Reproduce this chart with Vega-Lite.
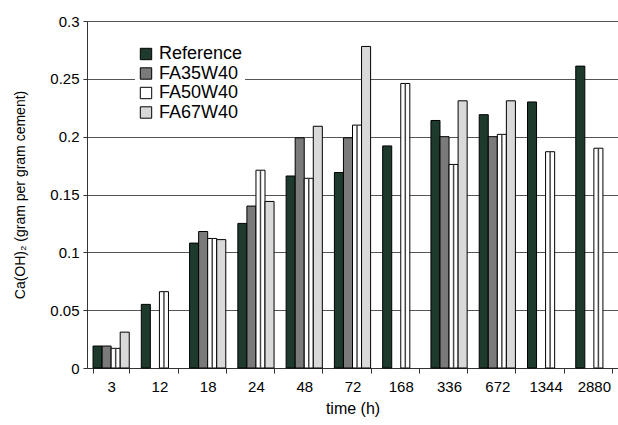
{
  "$schema": "https://vega.github.io/schema/vega-lite/v6.json",
  "width": 531,
  "height": 347,
  "autosize": "none",
  "padding": {"left": 87, "top": 21, "right": 0, "bottom": 57},
  "background": "white",
  "data": {"values": [
    {"t": "3", "s": "Reference", "v": 0.019},
    {"t": "3", "s": "FA35W40", "v": 0.019},
    {"t": "3", "s": "FA50W40", "v": 0.017},
    {"t": "3", "s": "FA67W40", "v": 0.031},
    {"t": "12", "s": "Reference", "v": 0.055},
    {"t": "12", "s": "FA50W40", "v": 0.066},
    {"t": "18", "s": "Reference", "v": 0.108},
    {"t": "18", "s": "FA35W40", "v": 0.118},
    {"t": "18", "s": "FA50W40", "v": 0.112},
    {"t": "18", "s": "FA67W40", "v": 0.111},
    {"t": "24", "s": "Reference", "v": 0.125},
    {"t": "24", "s": "FA35W40", "v": 0.14},
    {"t": "24", "s": "FA50W40", "v": 0.171},
    {"t": "24", "s": "FA67W40", "v": 0.144},
    {"t": "48", "s": "Reference", "v": 0.166},
    {"t": "48", "s": "FA35W40", "v": 0.199},
    {"t": "48", "s": "FA50W40", "v": 0.164},
    {"t": "48", "s": "FA67W40", "v": 0.209},
    {"t": "72", "s": "Reference", "v": 0.169},
    {"t": "72", "s": "FA35W40", "v": 0.199},
    {"t": "72", "s": "FA50W40", "v": 0.21},
    {"t": "72", "s": "FA67W40", "v": 0.278},
    {"t": "168", "s": "Reference", "v": 0.192},
    {"t": "168", "s": "FA50W40", "v": 0.246},
    {"t": "336", "s": "Reference", "v": 0.214},
    {"t": "336", "s": "FA35W40", "v": 0.2},
    {"t": "336", "s": "FA50W40", "v": 0.176},
    {"t": "336", "s": "FA67W40", "v": 0.231},
    {"t": "672", "s": "Reference", "v": 0.219},
    {"t": "672", "s": "FA35W40", "v": 0.2},
    {"t": "672", "s": "FA50W40", "v": 0.202},
    {"t": "672", "s": "FA67W40", "v": 0.231},
    {"t": "1344", "s": "Reference", "v": 0.23},
    {"t": "1344", "s": "FA50W40", "v": 0.187},
    {"t": "2880", "s": "Reference", "v": 0.261},
    {"t": "2880", "s": "FA50W40", "v": 0.19}
  ]},
  "encoding": {
    "x": {
      "field": "t", "type": "nominal",
      "sort": ["3","12","18","24","48","72","168","336","672","1344","2880"],
      "scale": {"paddingInner": 0.25, "paddingOuter": 0.125},
      "axis": {
        "title": "time (h)", "titleFont": "Liberation Sans", "titleFontSize": 16, "titleFontWeight": "normal",
        "titleColor": "black", "titlePadding": 6,
        "labelAngle": 0, "labelFont": "Liberation Sans", "labelFontSize": 15, "labelColor": "black",
        "labelPadding": 6,
        "tickBand": "extent", "tickColor": "#333", "tickSize": 5,
        "domainColor": "#333", "grid": false
      }
    },
    "xOffset": {
      "field": "s", "type": "nominal",
      "sort": ["Reference","FA35W40","FA50W40","FA67W40"],
      "scale": {"domain": ["Reference","FA35W40","FA50W40","FA67W40"], "paddingInner": 0, "paddingOuter": 0}
    },
    "y": {
      "field": "v", "type": "quantitative",
      "scale": {"domain": [0, 0.3], "nice": false},
      "axis": {
        "title": "Ca(OH)₂ (gram per gram cement)", "titleFont": "Liberation Sans", "titleFontSize": 14,
        "titleFontWeight": "normal", "titleColor": "black", "titlePadding": 22,
        "values": [0, 0.05, 0.1, 0.15, 0.2, 0.25, 0.3], "format": ".2~f",
        "labelFont": "Liberation Sans", "labelFontSize": 15, "labelColor": "black", "labelPadding": 4,
        "tickColor": "#333", "tickSize": 4, "domainColor": "#333",
        "grid": true, "gridColor": "#555", "gridWidth": 1.2
      }
    }
  },
  "layer": [
    {
      "mark": {"type": "bar", "stroke": "black", "strokeWidth": 1},
      "encoding": {
        "color": {
          "field": "s", "type": "nominal",
          "sort": ["Reference","FA35W40","FA50W40","FA67W40"],
          "scale": {
            "domain": ["Reference","FA35W40","FA50W40","FA67W40"],
            "range": ["#1d3a2d", "#7a7a7a", "#ffffff", "#d9d9d9"]
          },
          "legend": {
            "title": null, "orient": "none", "legendX": 48, "legendY": 22,
            "fillColor": "white", "padding": 2,
            "symbolType": "square", "symbolSize": 130, "symbolStrokeColor": "black", "symbolStrokeWidth": 1,
            "labelFont": "Liberation Sans", "labelFontSize": 18, "labelColor": "black", "labelOffset": 4,
            "rowPadding": 1.5
          }
        }
      }
    },
    {
      "transform": [{"filter": "datum.s === 'FA50W40'"}],
      "mark": {"type": "rule", "color": "#444", "strokeWidth": 1.5},
      "encoding": {"y2": {"datum": 0}}
    }
  ],
  "config": {"view": {"stroke": null}}
}
